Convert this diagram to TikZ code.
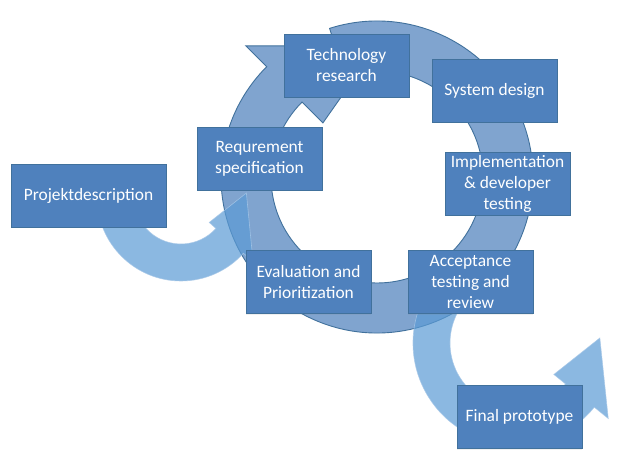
\documentclass[tikz,border=0pt]{standalone}
\usepackage{fontspec}
\setmainfont{Carlito}
\usetikzlibrary{shadows}
\definecolor{boxfill}{HTML}{4F81BD}
\definecolor{boxline}{HTML}{41719C}
\definecolor{ringfill}{HTML}{4F81BD}
\definecolor{arrowfill}{HTML}{5B9BD5}
\definecolor{arrowline}{HTML}{A8C8E8}
\tikzset{
  stagebox/.style={draw=boxline, line width=0.9pt, fill=boxfill, text=white,
    minimum width=125pt, minimum height=63pt, inner sep=2pt, align=center,
    font=\fontsize{17.4}{21}\selectfont,
    drop shadow={shadow xshift=0pt, shadow yshift=-1.5pt, opacity=.12}},
  ringshape/.style={fill=ringfill, fill opacity=.72, draw=boxline, line width=0.9pt},
  sidearrow/.style={fill=arrowfill, fill opacity=.7, draw=arrowline, draw opacity=.8, line width=0.6pt}
}
\begin{document}
\begin{tikzpicture}[x=1pt,y=1pt]
\useasboundingbox (0,0) rectangle (641,467);
\fill[white] (0,0) rectangle (641,467);
% main cycle ring arrow
\begin{scope}[shift={(377,290)}]
\filldraw[ringshape] (107.7:156pt) arc[start angle=107.7, end angle=-225, radius=156pt]
  -- (135:185.5pt) -- (90:131pt) -- (135:76.5pt) -- (135:106pt)
  arc[start angle=135, end angle=467.7, radius=106pt] -- cycle;
\end{scope}
% entry arrow
\begin{scope}[shift={(181,270)}]
\filldraw[sidearrow] (180:84pt) arc[start angle=180, end angle=318, radius=84pt]
  -- (318:97pt) -- (363.5:65.5pt) -- (318:38pt) -- (318:47pt)
  arc[start angle=318, end angle=180, radius=47pt] -- cycle;
\end{scope}
% exit arrow
\begin{scope}[shift={(515,124)}]
\filldraw[sidearrow] (125:102pt) arc[start angle=125, end angle=321, radius=102pt]
  -- (321:120pt) -- (363.4:85pt) -- (321:50pt) -- (321:65pt)
  arc[start angle=321, end angle=125, radius=65pt] -- cycle;
\end{scope}
% stages
\node[stagebox, minimum width=155pt] (proj) at (88.5,271.5) {Projektdescription};
\node[stagebox] (req) at (259.5,308.5) {Requrement\\specification};
\node[stagebox] (tech) at (346.5,401.5) {Technology\\research};
\node[stagebox] (sys) at (494.5,376.5) {System design};
\node[stagebox] (impl) at (507.5,283.5) {Implementation\\\& developer\\testing};
\node[stagebox] (eval) at (308.5,185) {Evaluation and\\Prioritization};
\node[stagebox] (acc) at (470.5,185) {Acceptance\\testing and\\review};
\node[stagebox] (final) at (519.5,50.5) {Final prototype};
\end{tikzpicture}
\end{document}
